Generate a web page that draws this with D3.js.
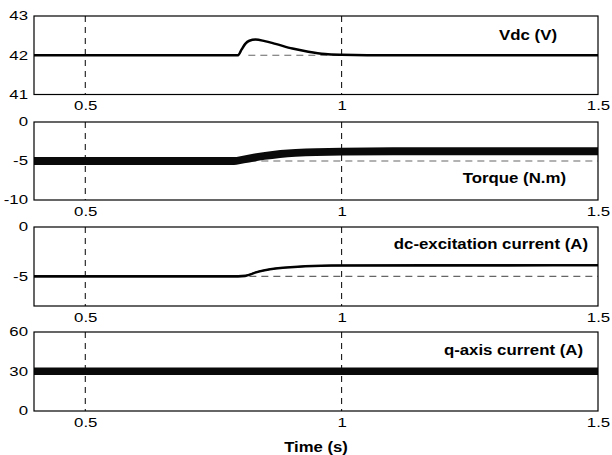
<!DOCTYPE html>
<html>
<head>
<meta charset="utf-8">
<script src="https://cdn.jsdelivr.net/npm/d3@7"></script>
<style>
  html, body { margin: 0; padding: 0; background: #fff; }
  svg { display: block; font-family: Arial, "Liberation Sans", sans-serif; }
</style>
</head>
<body>
<svg id="chart" width="612" height="455"></svg>
<script>
// ---------------- data ----------------
const xTicks = [0.5, 1, 1.5];
const xTickLabels = ["0.5", "1", "1.5"];
const xDomain = [0.4, 1.5];
const vLines = [0.5, 1];

// Panel 1: Vdc (V)
const vdcTime  = [0.4, 0.798, 0.805, 0.812, 0.82, 0.832, 0.85, 0.871, 0.904, 0.935, 0.968, 1.0, 1.05, 1.5];
const vdcValue = [42, 42, 42.15, 42.29, 42.37, 42.40, 42.36, 42.29, 42.17, 42.09, 42.03, 42.01, 42.0, 42.0];
const vdcRef = {t: [0.818, 1.0], v: 42};
const vdcTicks = [41, 42, 43];

// Panel 2: Torque (N.m)  (noise band: centre and half-width)
const torqueTime   = [0.4, 0.6, 0.79, 0.81, 0.83, 0.85, 0.88, 0.91, 0.95, 1.0, 1.2, 1.5];
const torqueCenter = [-5.0, -5.0, -5.0, -4.8, -4.55, -4.35, -4.1, -3.95, -3.85, -3.8, -3.75, -3.75];
const torqueHalf   = [0.5, 0.5, 0.5, 0.5, 0.5, 0.5, 0.5, 0.5, 0.5, 0.5, 0.5, 0.5];
const torqueRef = {t: [0.82, 1.5], v: -5};
const torqueTicks = [-10, -5, 0];

// Panel 3: dc-excitation current (A)
const dcTime   = [0.4, 0.798, 0.812, 0.832, 0.85, 0.871, 0.9, 0.929, 0.96, 1.0, 1.5];
const dcValue  = [-5.0, -5.0, -4.95, -4.6, -4.38, -4.2, -4.07, -3.98, -3.93, -3.9, -3.88];
const dcHalf   = [0.13, 0.13, 0.13, 0.13, 0.13, 0.13, 0.13, 0.13, 0.13, 0.13, 0.13];
const dcRef = {t: [0.82, 1.5], v: -5};
const dcTicks = [-5, 0];

// Panel 4: q-axis current (A)
const qTime   = [0.4, 0.8, 1.0, 1.5];
const qCenter = [30.2, 30.2, 30.2, 30.2];
const qHalf   = [2.9, 2.9, 2.9, 2.9];
const qTicks = [0, 30, 60];

// ---------------- layout ----------------
const svg = d3.select("#chart");
const left = 34, right = 598;
const x = d3.scaleLinear().domain(xDomain).range([left, right]);

const panels = [
  {top: 16,  bottom: 94.5, domain: [41, 43], ticks: vdcTicks, title: "Vdc (V)", titleX: 557, titleY: 39.5,
   line: {t: vdcTime, v: vdcValue, w: 2.5}, ref: vdcRef},
  {top: 122, bottom: 200, domain: [-10, 0], ticks: torqueTicks, title: "Torque (N.m)", titleX: 566, titleY: 182.5,
   band: {t: torqueTime, c: torqueCenter, h: torqueHalf}, ref: torqueRef},
  {top: 227, bottom: 306, domain: [-8, 0], ticks: dcTicks, title: "dc-excitation current (A)", titleX: 588, titleY: 248.5,
   band: {t: dcTime, c: dcValue, h: dcHalf}, line: {t: dcTime, v: dcValue, w: 1.4}, ref: dcRef},
  {top: 332, bottom: 411, domain: [0, 60], ticks: qTicks, title: "q-axis current (A)", titleX: 583, titleY: 355,
   band: {t: qTime, c: qCenter, h: qHalf}}
];

function stretch(sel, f) {
  sel.each(function() {
    const L = this.getComputedTextLength();
    d3.select(this).attr("textLength", L * f).attr("lengthAdjust", "spacingAndGlyphs");
  });
}

panels.forEach(p => {
  const y = d3.scaleLinear().domain(p.domain).range([p.bottom, p.top]);
  const g = svg.append("g");
  const clipId = "clip" + p.top;
  svg.append("clipPath").attr("id", clipId).append("rect")
    .attr("x", left).attr("y", p.top).attr("width", right - left).attr("height", p.bottom - p.top);
  const plot = g.append("g").attr("clip-path", `url(#${clipId})`);

  // vertical dashed lines
  plot.selectAll("line.v").data(vLines).join("line")
    .attr("x1", d => x(d)).attr("x2", d => x(d))
    .attr("y1", p.top).attr("y2", p.bottom)
    .attr("stroke", "#000").attr("stroke-width", 1).attr("stroke-dasharray", "6,5");

  // reference dashed line
  if (p.ref) {
    plot.append("line")
      .attr("x1", x(p.ref.t[0])).attr("x2", x(p.ref.t[1]))
      .attr("y1", y(p.ref.v)).attr("y2", y(p.ref.v))
      .attr("stroke", "#666").attr("stroke-width", 1.2).attr("stroke-dasharray", "7,5");
  }

  if (p.band) {
    const idx = d3.range(p.band.t.length);
    const area = d3.area()
      .x(i => x(p.band.t[i]))
      .y0(i => y(p.band.c[i] - p.band.h[i]))
      .y1(i => y(p.band.c[i] + p.band.h[i]))
      .curve(d3.curveMonotoneX);
    plot.append("path").datum(idx).attr("d", area).attr("fill", "#0a0a0a");
  }
  if (p.line) {
    const idx = d3.range(p.line.t.length);
    const line = d3.line().x(i => x(p.line.t[i])).y(i => y(p.line.v[i])).curve(d3.curveMonotoneX);
    plot.append("path").datum(idx).attr("d", line)
      .attr("fill", "none").attr("stroke", "#000").attr("stroke-width", p.line.w);
  }

  // frame
  g.append("rect").attr("x", left).attr("y", p.top)
    .attr("width", right - left).attr("height", p.bottom - p.top)
    .attr("fill", "none").attr("stroke", "#000").attr("stroke-width", 1.2);

  // axes
  const xa = g.append("g").attr("transform", `translate(0,${p.bottom})`)
    .call(d3.axisBottom(x).tickValues(xTicks).tickFormat((d, i) => xTickLabels[i]).tickSize(0).tickPadding(7));
  xa.select(".domain").remove();
  xa.selectAll("text").attr("font-size", 12).attr("font-family", "Arial, 'Liberation Sans', sans-serif").attr("fill", "#000");
  stretch(xa.selectAll("text"), 1.4);

  const ya = g.append("g").attr("transform", `translate(${left},0)`)
    .call(d3.axisLeft(y).tickValues(p.ticks).tickFormat(d => String(d)).tickSize(0).tickPadding(6));
  ya.select(".domain").remove();
  ya.selectAll("text").attr("font-size", 12).attr("font-family", "Arial, 'Liberation Sans', sans-serif").attr("fill", "#000");
  stretch(ya.selectAll("text"), 1.4);

  // title
  const t = g.append("text").attr("x", p.titleX).attr("y", p.titleY)
    .attr("text-anchor", "end").attr("font-size", 14).attr("font-weight", "bold").text(p.title);
  stretch(t, 1.2);
});

const xl = svg.append("text").attr("x", 316).attr("y", 452).attr("text-anchor", "middle")
  .attr("font-size", 14.5).attr("font-weight", "bold").text("Time (s)");
stretch(xl, 1.15);
</script>
</body>
</html>
